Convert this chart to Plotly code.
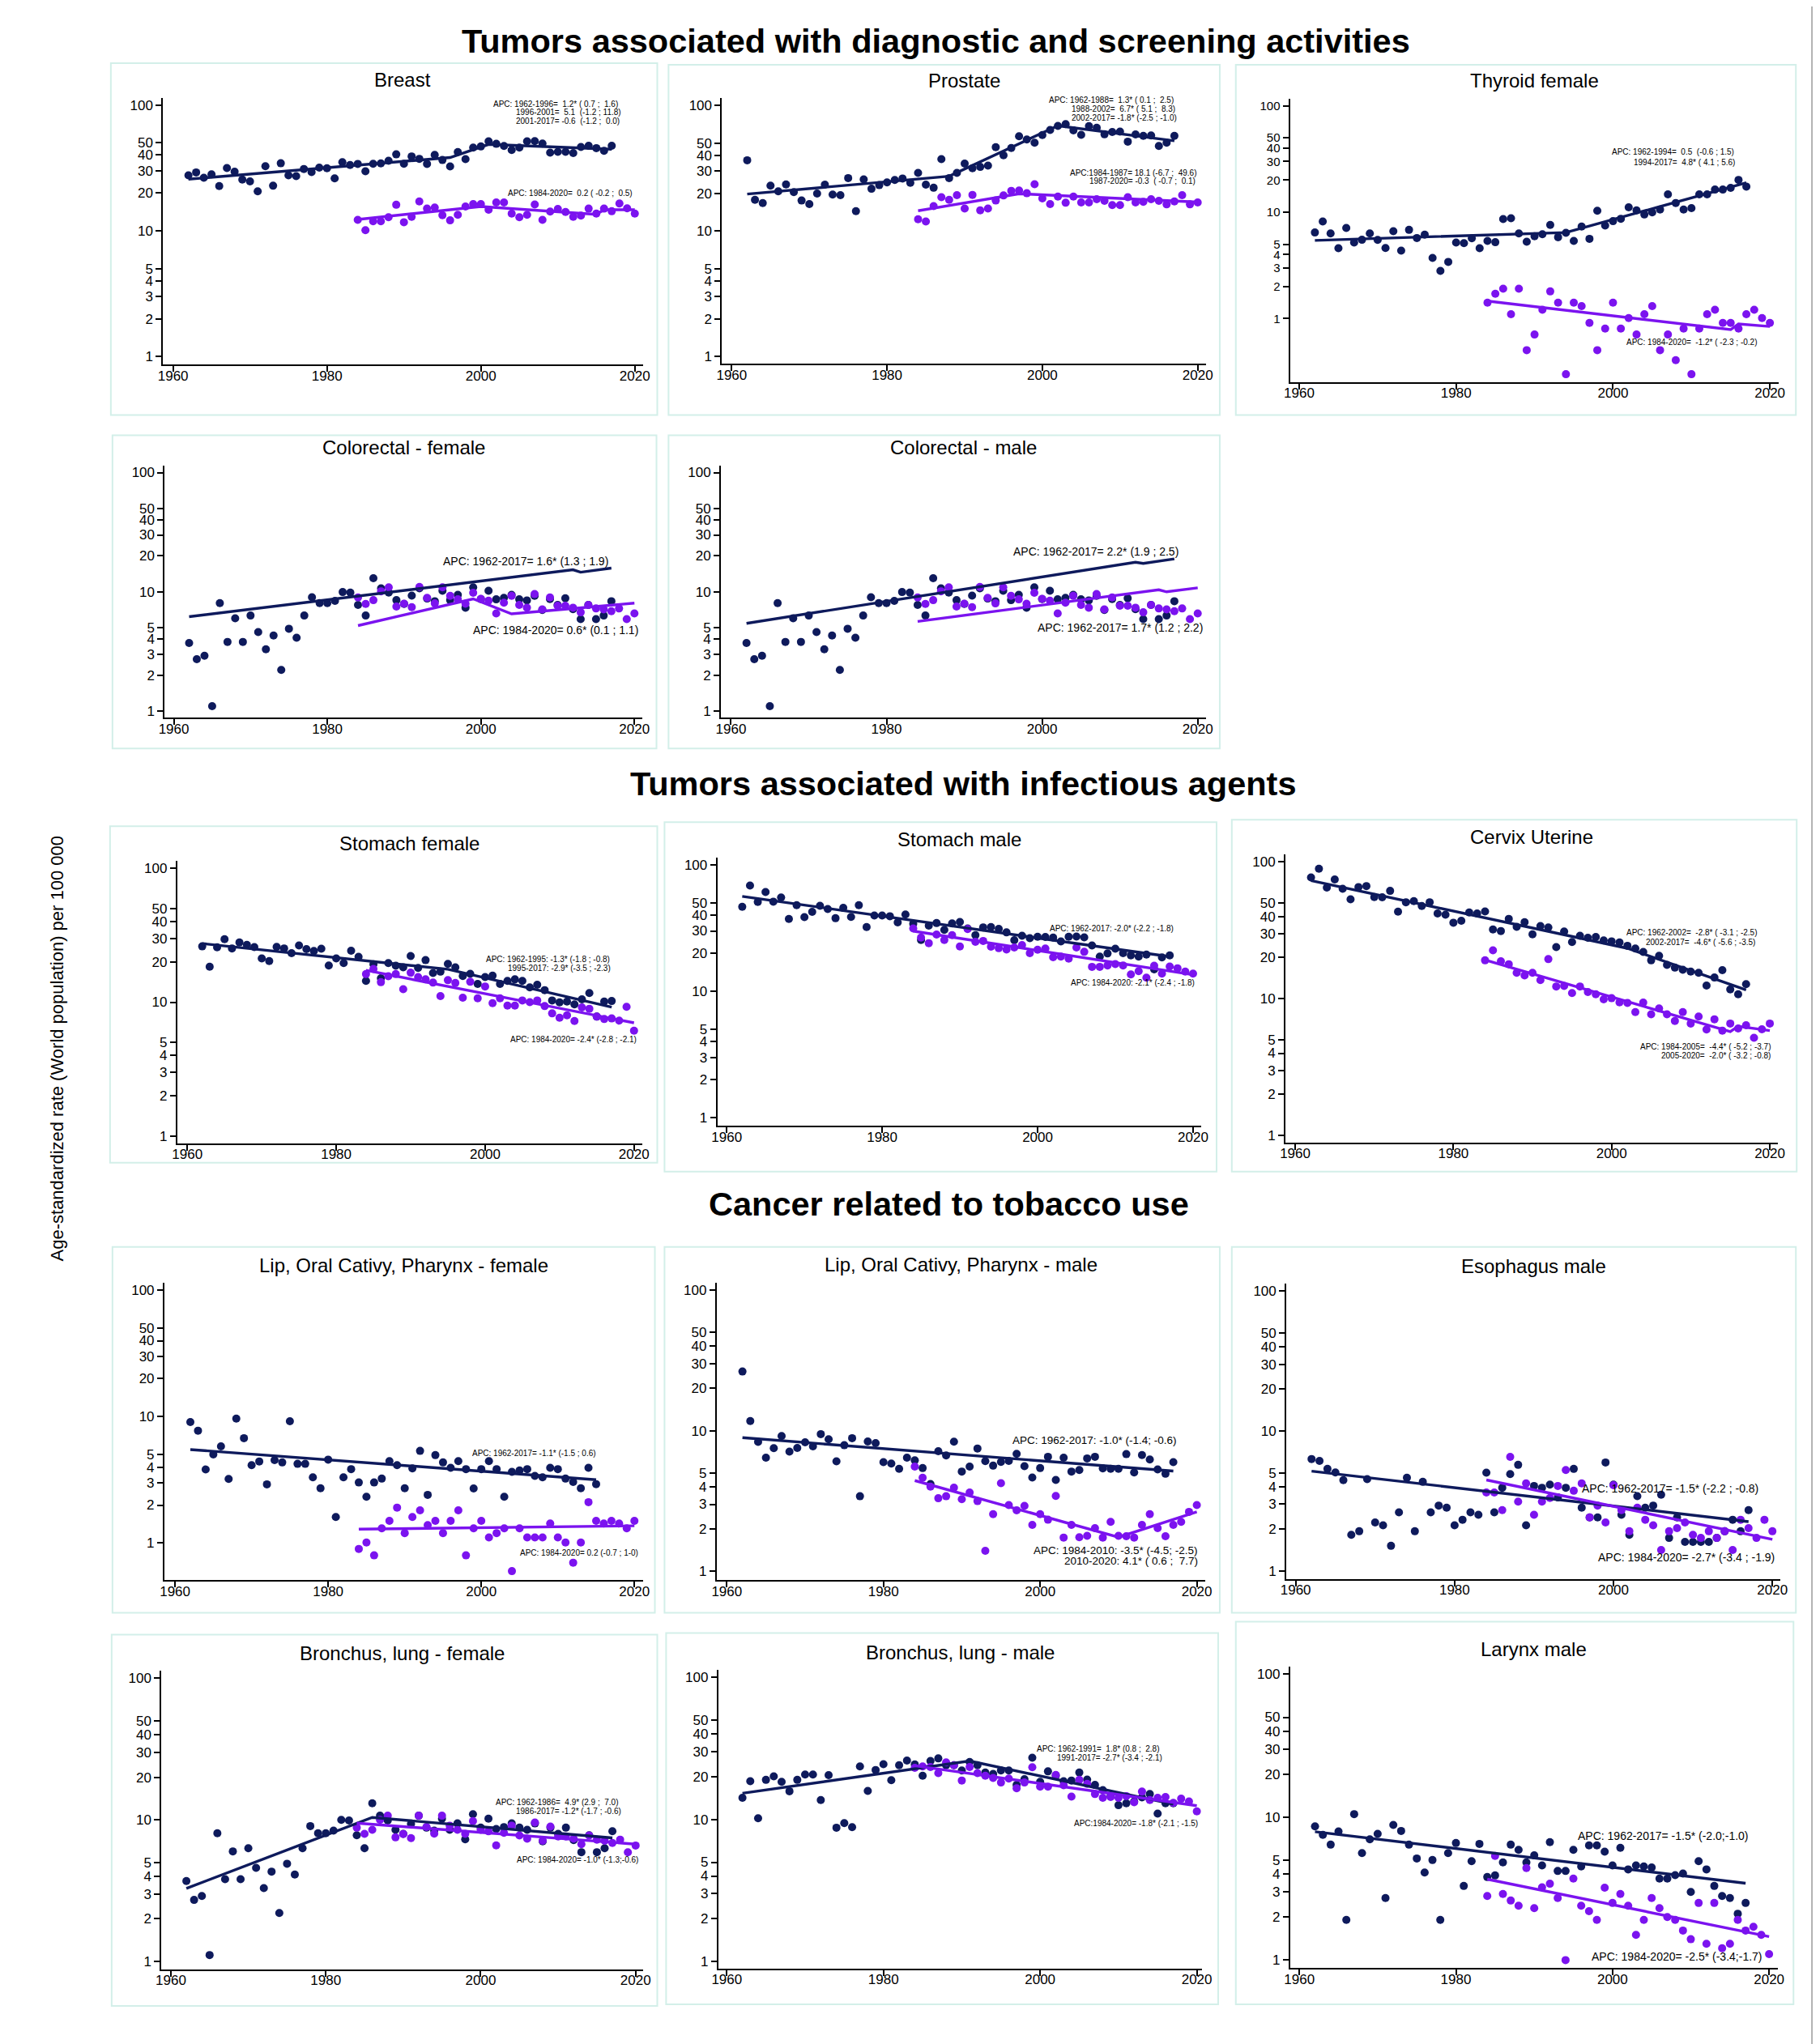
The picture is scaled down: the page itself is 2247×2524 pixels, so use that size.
import math
import plotly.graph_objects as go

W, H = 2247, 2524
NAVY = "#0e1a5c"
PURPLE = "#7b13ef"
BOXC = "#d3efe9"
FONT = "Liberation Sans, Arial, sans-serif"

# ---------------- data ----------------
years_a = list(range(1962, 2018))
years_b = list(range(1984, 2021))
years_lipf_a = list(range(1962, 2016))

breast_a = [27.6, 29.1, 26.4, 28.1, 22.7, 31.5, 29.5, 25.5, 24.7, 20.6,
            32.6, 22.8, 34.4, 27.6, 27.2, 31.0, 29.3, 31.8, 31.4, 26.1,
            35.1, 33.3, 34.0, 29.7, 34.1, 34.3, 36.0, 40.5, 34.1, 39.0,
            37.3, 34.0, 40.1, 36.5, 32.5, 42.2, 37.1, 45.8, 46.8, 51.4,
            49.1, 47.2, 43.8, 45.8, 51.4, 51.6, 49.3, 41.8, 42.4, 42.4,
            41.5, 46.3, 47.4, 45.4, 43.2, 47.4]
breast_b = [12.2, 10.1, 11.9, 11.9, 12.8, 16.1, 11.7, 12.9, 17.1, 15.0,
            15.3, 13.3, 12.1, 13.4, 15.6, 16.3, 16.3, 14.7, 16.8, 16.8,
            13.7, 12.8, 13.4, 16.2, 12.2, 14.2, 14.9, 14.1, 12.9, 13.2,
            15.0, 13.7, 15.0, 14.3, 16.5, 15.1, 13.7]
breast_fit_a_x = [1962, 1996, 2001, 2017]
breast_fit_a_y = [25.7, 38.2, 48.6, 44.5]
breast_fit_b_x = [1984, 2000, 2015, 2016, 2020]
breast_fit_b_y = [12.3, 15.6, 13.5, 14.7, 14.7]

prostate_a = [36.6, 17.7, 16.7, 23.0, 20.7, 23.5, 20.4, 17.5, 16.4, 19.9,
              23.4, 19.5, 19.3, 26.4, 14.4, 25.8, 21.7, 23.2, 24.4, 25.5,
              26.2, 24.2, 29.0, 23.4, 22.1, 37.4, 26.4, 29.0, 34.4, 31.6,
              32.4, 33.2, 46.5, 40.1, 45.8, 56.9, 53.6, 50.5, 58.1, 63.7,
              68.7, 71.1, 63.4, 58.3, 68.4, 66.4, 58.9, 61.5, 61.9, 51.5,
              58.7, 57.2, 57.7, 47.6, 50.5, 57.2]
prostate_b = [12.4, 11.9, 15.8, 18.6, 17.7, 19.3, 15.1, 19.4, 14.6, 15.1,
              17.5, 19.2, 20.9, 21.0, 20.0, 23.6, 18.2, 16.4, 18.8, 16.8,
              18.8, 16.9, 16.9, 17.9, 17.4, 16.1, 16.1, 18.6, 16.9, 17.1,
              17.9, 17.4, 16.3, 17.2, 19.3, 16.3, 16.9]
prostate_fit_a_x = [1962, 1988, 2002, 2017]
prostate_fit_a_y = [19.7, 27.3, 69.0, 52.3]
prostate_fit_b_x = [1984, 1997, 2020]
prostate_fit_b_y = [14.5, 19.8, 17.0]

thyroid_a = [6.44, 8.18, 6.32, 4.59, 7.11, 5.18, 5.50, 6.32, 5.48, 4.61,
             6.62, 4.35, 6.82, 5.72, 6.14, 3.72, 2.81, 3.41, 5.18, 5.12,
             5.69, 4.59, 5.37, 5.22, 8.62, 8.77, 6.32, 5.28, 5.93, 6.21,
             7.58, 5.82, 6.40, 5.37, 7.32, 5.62, 10.3, 7.49, 8.23, 8.67,
             11.1, 10.4, 9.51, 9.97, 10.6, 14.7, 12.2, 10.6, 10.9, 14.7,
             14.7, 16.3, 16.3, 16.9, 20.1, 17.4]
thyroid_b = [1.41, 1.71, 1.91, 1.10, 1.91, 0.505, 0.708, 1.21, 1.80, 1.41,
             0.30, 1.41, 1.31, 0.91, 0.505, 0.805, 1.41, 0.805, 1.01, 0.708,
             1.10, 1.31, 0.505, 0.708, 0.407, 0.805, 0.30, 0.805, 1.10, 1.21,
             0.91, 0.91, 0.805, 1.10, 1.21, 1.01, 0.91]
thyroid_fit_a_x = [1962, 1994, 2017]
thyroid_fit_a_y = [5.43, 6.44, 18.9]
thyroid_fit_b_x = [1984, 2015, 2016, 2020]
thyroid_fit_b_y = [1.46, 0.787, 0.89, 0.844]

colorectal_a = [3.72, 2.72, 2.91, 1.10, 8.04, 3.80, 6.00, 3.80, 6.32, 4.60,
                3.30, 4.30, 2.21, 4.90, 4.12, 6.32, 9.01, 8.04, 8.04, 8.38,
                9.95, 9.85, 7.75, 6.32, 13.0, 10.7, 9.85, 8.51, 7.91, 9.30,
                10.7, 8.78, 8.34, 10.2, 8.51, 9.44, 7.36, 10.9, 8.68, 10.2,
                8.64, 8.91, 9.42, 8.64, 8.47, 9.25, 7.05, 8.68, 7.75, 8.83,
                7.16, 5.90, 7.75, 5.90, 6.32, 8.34]
colorectal_b = [8.96, 7.91, 8.51, 10.1, 10.9, 7.52, 7.95, 7.44, 11.0, 8.91,
                7.99, 10.9, 9.25, 8.64, 7.95, 9.80, 8.72, 8.43, 6.59, 8.11,
                9.25, 7.75, 7.36, 9.57, 7.12, 8.96, 7.63, 7.63, 7.36, 6.73,
                7.75, 7.25, 7.12, 6.87, 7.25, 5.90, 6.59]
colf_fit_a_x = [1962, 2012, 2013, 2017]
colf_fit_a_y = [6.19, 15.3, 14.6, 15.8]
colf_fit_b_x = [1984, 1999, 2004, 2020]
colf_fit_b_y = [5.21, 8.72, 6.53, 8.04]
colm_fit_a_x = [1962, 2012, 2013, 2017]
colm_fit_a_y = [5.44, 17.7, 17.3, 18.9]
colm_fit_b_x = [1984, 2015, 2016, 2020]
colm_fit_b_y = [5.64, 10.4, 10.0, 10.8]

stomf_a = [26.1, 18.4, 25.7, 29.5, 25.2, 27.9, 26.8, 25.8, 21.2, 20.3,
           25.9, 25.2, 23.2, 26.5, 24.9, 24.1, 25.1, 18.8, 21.2, 19.6,
           24.2, 21.8, 14.4, 19.2, 15.1, 19.6, 18.7, 18.2, 22.1, 18.0,
           20.6, 16.5, 16.9, 19.3, 18.2, 15.7, 16.3, 13.7, 15.4, 15.8,
           13.7, 14.4, 14.8, 14.4, 12.9, 13.5, 12.3, 10.3, 9.98, 10.1,
           9.62, 10.5, 11.7, 7.80, 10.1, 10.2]
stomf_b = [16.2, 17.7, 14.1, 15.6, 16.2, 12.5, 16.6, 15.4, 14.8, 14.0,
           11.1, 14.6, 13.9, 10.8, 14.2, 10.7, 13.1, 9.84, 10.7, 9.44,
           9.44, 10.3, 10.0, 10.3, 9.35, 8.25, 7.66, 7.98, 7.24, 9.14,
           8.93, 7.80, 7.48, 7.56, 7.28, 9.23, 6.13]
stomf_fit_a_x = [1962, 1995, 2017]
stomf_fit_a_y = [27.4, 17.6, 9.18]
stomf_fit_b_x = [1984, 2020]
stomf_fit_b_y = [17.3, 7.01]

stomm_a = [46.5, 68.5, 50.8, 60.9, 51.1, 55.2, 37.3, 47.9, 38.6, 42.4,
           47.4, 44.7, 37.8, 45.6, 38.7, 47.9, 32.2, 39.7, 39.7, 39.2,
           35.0, 40.5, 34.2, 25.4, 33.0, 34.6, 30.6, 34.4, 35.3, 31.4,
           27.8, 32.0, 32.2, 31.1, 29.2, 25.3, 27.5, 26.3, 27.0, 26.9,
           26.6, 24.8, 27.0, 27.1, 26.7, 23.0, 18.8, 19.9, 21.7, 20.0,
           19.2, 18.8, 19.5, 14.9, 18.5, 19.2]
stomm_b = [31.4, 26.6, 24.0, 28.1, 25.4, 27.8, 22.6, 31.0, 24.6, 25.0,
           22.5, 21.9, 21.4, 22.2, 23.2, 20.0, 21.3, 21.8, 18.6, 18.8,
           18.1, 22.2, 20.5, 15.6, 15.6, 16.0, 16.4, 16.0, 13.6, 14.4,
           12.8, 15.9, 13.8, 15.7, 15.2, 14.3, 13.8]
stomm_fit_a_x = [1962, 2017]
stomm_fit_a_y = [56.3, 18.8]
stomm_fit_b_x = [1984, 2020]
stomm_fit_b_y = [29.9, 13.5]

cervix_a = [77.2, 89.3, 65.0, 74.5, 63.8, 53.4, 65.6, 66.7, 55.4, 55.2,
            61.5, 43.4, 50.8, 51.7, 47.7, 50.8, 42.0, 41.2, 36.0, 37.2,
            42.8, 42.0, 43.5, 32.1, 31.3, 38.4, 33.6, 36.3, 29.6, 34.0,
            33.2, 23.9, 31.0, 26.0, 28.9, 27.9, 28.3, 26.7, 26.3, 25.8,
            24.4, 23.3, 22.0, 19.1, 20.6, 17.7, 16.9, 16.3, 15.8, 15.5,
            12.5, 14.3, 16.2, 11.7, 10.8, 12.8]
cervix_b = [19.1, 22.6, 18.8, 17.9, 15.5, 14.8, 15.5, 13.7, 19.5, 12.3,
            12.4, 11.0, 12.3, 11.2, 10.8, 9.9, 10.1, 9.42, 9.33, 8.00,
            9.38, 7.69, 8.50, 7.69, 6.89, 8.00, 6.59, 7.41, 5.96, 7.08,
            5.85, 6.59, 6.07, 6.41, 5.18, 5.98, 6.59]
cervix_fit_a_x = [1962, 2002, 2017]
cervix_fit_a_y = [73.1, 23.4, 11.6]
cervix_fit_b_x = [1984, 2015, 2016, 2020]
cervix_fit_b_y = [19.2, 5.75, 6.3, 5.85]

lipf_a = [9.08, 7.76, 3.83, 5.04, 5.83, 3.22, 9.68, 6.77, 4.14, 4.43,
          2.92, 4.54, 4.35, 9.22, 4.24, 4.24, 3.32, 2.72, 4.58, 1.61,
          3.32, 3.85, 3.02, 2.33, 3.02, 3.24, 4.45, 4.14, 2.72, 3.90,
          5.37, 2.41, 4.97, 4.35, 3.94, 4.45, 3.85, 2.71, 3.85, 4.45,
          3.85, 2.33, 3.66, 3.76, 3.85, 3.40, 3.32, 3.94, 3.85, 3.24,
          3.05, 2.72, 3.94, 2.93]
lipf_b = [0.90, 1.01, 0.80, 1.31, 1.50, 1.91, 1.20, 1.61, 1.82, 1.39,
          1.50, 1.20, 1.50, 1.82, 0.80, 1.31, 1.50, 1.11, 1.20, 1.31,
          0.60, 1.31, 1.11, 1.11, 1.11, 1.43, 1.11, 1.01, 0.70, 1.01,
          2.11, 1.50, 1.43, 1.50, 1.43, 1.31, 1.50]
lipf_fit_a_x = [1962, 2015]
lipf_fit_a_y = [5.50, 3.17]
lipf_fit_b_x = [1984, 2020]
lipf_fit_b_y = [1.29, 1.37]

lipm_a = [26.3, 11.7, 8.31, 6.43, 7.51, 9.16, 7.09, 7.54, 8.27, 7.74,
          9.45, 8.68, 6.05, 7.88, 8.84, 3.42, 8.38, 8.16, 5.97, 5.84,
          5.35, 6.43, 6.15, 5.42, 4.18, 7.15, 6.67, 8.34, 5.12, 5.56,
          7.47, 6.08, 5.64, 5.99, 6.10, 6.84, 5.59, 4.65, 5.42, 6.52,
          4.46, 6.43, 5.12, 5.25, 6.35, 6.52, 5.40, 5.35, 5.35, 6.81,
          5.05, 6.71, 6.24, 5.30, 4.94, 5.97]
lipm_b = [5.56, 4.63, 4.00, 3.31, 3.42, 3.94, 3.26, 3.63, 3.16, 1.40,
          2.55, 4.23, 2.96, 2.72, 2.92, 2.14, 2.55, 2.33, 3.44, 1.74,
          2.14, 1.75, 1.79, 2.03, 1.74, 2.25, 1.79, 1.78, 1.74, 2.14,
          2.55, 2.03, 1.78, 2.14, 2.25, 2.65, 2.96]
lipm_fit_a_x = [1962, 2017]
lipm_fit_a_y = [8.92, 5.16]
lipm_fit_b_x = [1984, 2010, 2020]
lipm_fit_b_y = [4.42, 1.75, 2.65]

eso_a = [6.31, 6.12, 5.36, 5.06, 4.45, 1.81, 1.92, 4.53, 2.22, 2.12,
         1.51, 2.62, 4.63, 1.92, 4.33, 2.62, 2.93, 2.83, 2.12, 2.32,
         2.62, 2.52, 5.04, 2.62, 3.93, 4.92, 5.73, 2.12, 4.05, 3.93,
         4.14, 3.35, 3.93, 5.36, 2.83, 2.41, 2.41, 5.96, 4.14, 2.52,
         1.81, 3.42, 2.83, 2.93, 3.50, 1.72, 2.41, 1.61, 1.61, 1.61,
         1.61, 1.72, 1.92, 2.32, 1.92, 2.72]
eso_b = [3.63, 3.63, 2.72, 6.54, 3.13, 4.22, 2.52, 3.13, 3.32, 4.05,
         5.26, 3.74, 4.22, 2.41, 2.93, 2.22, 4.10, 2.72, 1.92, 2.83,
         2.32, 2.12, 1.41, 1.92, 2.02, 2.22, 1.81, 1.72, 1.92, 1.72,
         1.92, 1.41, 2.32, 2.02, 1.72, 2.32, 1.92]
eso_fit_a_x = [1962, 2017]
eso_fit_a_y = [5.17, 2.25]
eso_fit_b_x = [1984, 2020]
eso_fit_b_y = [4.47, 1.68]

lungf_a = [3.70, 2.72, 2.90, 1.11, 8.04, 3.81, 5.99, 3.81, 6.31, 4.58,
           3.30, 4.31, 2.20, 4.90, 4.11, 6.31, 9.04, 8.04, 8.04, 8.39,
           10.0, 9.90, 7.78, 6.31, 13.1, 10.7, 9.90, 8.51, 7.96, 9.36,
           10.7, 8.81, 8.39, 10.2, 8.51, 9.44, 7.29, 10.96, 8.81, 10.2,
           8.62, 8.89, 9.44, 8.81, 8.51, 9.44, 7.05, 8.81, 7.96, 8.81,
           7.20, 5.91, 7.78, 5.91, 6.31, 8.32]
lungf_b = [8.81, 7.96, 8.51, 10.0, 10.7, 7.52, 7.95, 7.44, 10.7, 8.91,
           7.99, 10.7, 9.10, 8.51, 7.96, 9.80, 8.51, 8.30, 6.60, 8.10,
           9.10, 7.75, 7.36, 9.57, 7.12, 8.96, 7.63, 7.63, 7.36, 6.73,
           7.75, 7.25, 7.12, 6.87, 7.25, 5.90, 6.59]
lungf_fit_a_x = [1962, 1986, 2017]
lungf_fit_a_y = [3.28, 10.4, 7.46]
lungf_fit_b_x = [1984, 2020]
lungf_fit_b_y = [9.49, 6.74]

lungm_a = [14.2, 18.6, 10.2, 19.0, 20.1, 18.4, 15.8, 19.0, 20.7, 20.7,
           13.7, 20.5, 8.75, 9.42, 8.83, 23.6, 15.9, 22.3, 24.5, 18.9,
           24.1, 26.0, 24.4, 20.3, 25.8, 26.9, 24.1, 24.1, 22.1, 25.4,
           24.1, 21.4, 20.9, 22.1, 22.1, 17.5, 19.2, 27.2, 18.4, 21.8,
           20.3, 18.6, 18.8, 21.4, 19.1, 17.5, 16.1, 14.6, 12.6, 13.0,
           13.4, 14.3, 15.1, 11.0, 13.0, 13.0]
lungm_b = [23.1, 23.6, 23.4, 21.2, 25.2, 24.1, 18.8, 23.4, 21.2, 20.3,
           19.6, 18.2, 19.4, 16.6, 18.2, 23.3, 17.0, 17.0, 20.6, 17.4,
           14.5, 19.0, 17.8, 15.1, 14.2, 14.4, 14.2, 14.6, 13.2, 15.7,
           13.7, 14.2, 14.4, 13.1, 14.0, 13.4, 11.4]
lungm_fit_a_x = [1962, 1991, 2017]
lungm_fit_a_y = [15.3, 25.8, 12.8]
lungm_fit_b_x = [1984, 2020]
lungm_fit_b_y = [23.9, 12.5]

larynx_a = [8.63, 7.51, 6.42, 7.94, 1.91, 10.5, 5.61, 7.00, 7.64, 2.72,
            8.82, 8.01, 6.42, 5.14, 4.10, 5.01, 1.91, 5.61, 6.59, 3.30,
            4.92, 6.50, 3.81, 3.91, 4.82, 6.42, 5.91, 4.82, 5.40, 4.59,
            6.68, 4.20, 4.20, 5.91, 4.52, 6.34, 6.34, 5.73, 4.59, 6.10,
            4.31, 4.59, 4.52, 4.44, 3.72, 3.72, 3.93, 4.03, 3.00, 4.92,
            4.31, 3.30, 2.81, 2.72, 2.11, 2.51]
larynx_b = [2.81, 5.35, 2.90, 2.61, 2.40, 4.40, 2.31, 3.23, 3.42, 2.72,
            1.00, 3.72, 2.40, 2.20, 1.91, 3.21, 2.51, 2.90, 2.40, 1.50,
            1.91, 2.72, 2.31, 2.00, 1.91, 1.61, 1.40, 2.51, 1.30, 2.51,
            1.21, 1.30, 1.91, 1.61, 1.71, 1.50, 1.10]
larynx_fit_a_x = [1962, 2017]
larynx_fit_a_y = [7.91, 3.45]
larynx_fit_b_x = [1984, 2020]
larynx_fit_b_y = [3.68, 1.46]

panel_titles = ["Breast", "Prostate", "Thyroid female",
                "Colorectal - female", "Colorectal - male",
                "Stomach female", "Stomach male", "Cervix Uterine",
                "Lip, Oral Cativy, Pharynx - female", "Lip, Oral Cativy, Pharynx - male", "Esophagus male",
                "Bronchus, lung - female", "Bronchus, lung - male", "Larynx male"]

section_titles = ["Tumors associated with diagnostic and screening activities",
                  "Tumors associated with infectious agents",
                  "Cancer related to tobacco use"]
y_title = "Age-standardized rate (World population) per 100 000"

ytick_vals = [1, 2, 3, 4, 5, 10, 20, 30, 40, 50, 100]
xtick_vals = [1960, 1980, 2000, 2020]

# APC annotations: (x right, y value, text, fontsize)
S, L = 10, 14
apc_breast = [(2018.0, 10 ** 2.008, "APC: 1962-1996=  1.2* ( 0.7 ;  1.6)", S),
              (2018.4, 10 ** 1.940, "1996-2001=  5.1  (-1.2 ; 11.8)", S),
              (2018.2, 10 ** 1.872, "2001-2017= -0.6  (-1.2 ;  0.0)", S),
              (2019.9, 10 ** 1.299, "APC: 1984-2020=  0.2 ( -0.2 ;  0.5)", S)]
apc_prostate = [(2017.1, 10 ** 2.044, "APC: 1962-1988=  1.3* ( 0.1 ;  2.5)", S),
                (2017.3, 10 ** 1.974, "1988-2002=  6.7* ( 5.1 ;  8.3)", S),
                (2017.5, 10 ** 1.904, "2002-2017= -1.8* (-2.5 ; -1.0)", S),
                (2020.1, 10 ** 1.465, "APC:1984-1987= 18.1 (-6.7 ;  49.6)", S),
                (2019.9, 10 ** 1.397, "1987-2020= -0.3  ( -0.7 ;  0.1)", S)]
apc_thyroid = [(2015.6, 10 ** 1.569, "APC: 1962-1994=  0.5  (-0.6 ; 1.5)", S),
               (2015.8, 10 ** 1.468, "1994-2017=  4.8* ( 4.1 ; 5.6)", S),
               (2018.5, 10 ** -0.218, "APC: 1984-2020=  -1.2* ( -2.3 ; -0.2)", S)]
apc_colf = [(2016.8, 10 ** 1.256, "APC: 1962-2017= 1.6* (1.3 ; 1.9)", L),
            (2020.7, 10 ** 0.679, "APC: 1984-2020= 0.6* (0.1 ; 1.1)", L)]
apc_colm = [(2017.7, 10 ** 1.335, "APC: 1962-2017= 2.2* (1.9 ; 2.5)", L),
            (2020.9, 10 ** 0.701, "APC: 1962-2017= 1.7* (1.2 ; 2.2)", L)]
apc_stomf = [(2017.0, 10 ** 1.323, "APC: 1962-1995: -1.3* (-1.8 ; -0.8)", S),
             (2017.1, 10 ** 1.257, "1995-2017: -2.9* (-3.5 ; -2.3)", S),
             (2020.6, 10 ** 0.721, "APC: 1984-2020= -2.4* (-2.8 ; -2.1)", S)]
apc_stomm = [(2017.7, 10 ** 1.495, "APC: 1962-2017: -2.0* (-2.2 ; -1.8)", S),
             (2020.4, 10 ** 1.066, "APC: 1984-2020: -2.1* (-2.4 ; -1.8)", S)]
apc_cervix = [(2018.6, 10 ** 1.485, "APC: 1962-2002=  -2.8* ( -3.1 ; -2.5)", S),
              (2018.4, 10 ** 1.414, "2002-2017=  -4.6* ( -5.6 ; -3.5)", S),
              (2020.3, 10 ** 0.647, "APC: 1984-2005=  -4.4* ( -5.2 ; -3.7)", S),
              (2020.3, 10 ** 0.586, "2005-2020=  -2.0* ( -3.2 ; -0.8)", S)]
apc_lipf = [(2015.2, 10 ** 0.709, "APC: 1962-2017= -1.1* (-1.5 ; 0.6)", S),
            (2020.7, 10 ** -0.077, "APC: 1984-2020= 0.2 (-0.7 ; 1-0)", S)]
apc_lipm = [(2017.7, 10 ** 0.933, "APC: 1962-2017: -1.0* (-1.4; -0.6)", 13.5),
            (2020.3, 10 ** 0.151, "APC: 1984-2010: -3.5* (-4.5; -2.5)", 13.5),
            (2020.3, 10 ** 0.075, "2010-2020: 4.1* ( 0.6 ;  7.7)", 13.5)]
apc_eso = [(2018.5, 10 ** 0.588, "APC: 1962-2017= -1.5* (-2.2 ; -0.8)", L),
           (2020.5, 10 ** 0.096, "APC: 1984-2020= -2.7* (-3.4 ; -1.9)", L)]
apc_lungf = [(2017.9, 10 ** 1.126, "APC: 1962-1986=  4.9* (2.9 ;  7.0)", S),
             (2018.4, 10 ** 1.061, "1986-2017= -1.2* (-1.7 ; -0.6)", S),
             (2020.6, 10 ** 0.72, "APC: 1984-2020= -1.0* (-1.3;-0.6)", S)]
apc_lungm = [(2015.4, 10 ** 1.496, "APC: 1962-1991=  1.8* (0.8 ;  2.8)", S),
             (2015.8, 10 ** 1.433, "1991-2017= -2.7* (-3.4 ; -2.1)", S),
             (2020.4, 10 ** 0.971, "APC:1984-2020= -1.8* (-2.1 ; -1.5)", S)]
apc_larynx = [(2017.6, 10 ** 0.870, "APC: 1962-2017= -1.5* (-2.0;-1.0)", L),
              (2019.4, 10 ** 0.0245, "APC: 1984-2020= -2.5* (-3.4;-1.7)", L)]

# ---------------- layout geometry (pixels) ----------------
# (y-axis x, x of 1960, x of 2020, axis right end, y of 100, y of 1, x-axis y)
geom = [
    (187, 199.5, 775, 785, 121.7, 432.7, 442.7),
    (883.7, 895.7, 1476.5, 1487, 122.3, 432.7, 441.7),
    (1591.4, 1603, 2189.6, 2200.8, 122.7, 385.7, 464),
    (189.2, 200.4, 774.5, 784, 576, 870.7, 879),
    (882.3, 894.8, 1476.5, 1487, 576, 870.7, 879),
    (204.8, 217.3, 774, 784.3, 1065, 1396, 1405),
    (877.9, 889.5, 1470.7, 1480.5, 1060.7, 1373.3, 1383.3),
    (1585.9, 1598, 2189.5, 2200, 1057.3, 1395.3, 1404),
    (188.75, 202, 774.5, 785, 1586.7, 1899, 1945),
    (877, 889.6, 1475.4, 1486, 1586, 1934, 1945),
    (1587, 1598.6, 2192.7, 2203, 1587.7, 1933.3, 1943.3),
    (185, 196.8, 776, 785, 2066, 2416, 2426),
    (879, 889.6, 1475.4, 1481.6, 2065, 2416, 2425),
    (1591.7, 1603.2, 2188.6, 2199.6, 2061, 2414.3, 2424.3),
]
ytick_font = [17, 17, 15, 17, 17, 17, 17, 17, 17, 17, 17, 17, 17, 17]
boxes = [
    (122, 70, 803, 505), (817, 72, 1504, 505), (1524, 72, 2222, 505),
    (124, 530, 802, 917), (817, 530, 1504, 917),
    (121, 1013, 803, 1429), (812, 1008, 1500, 1440), (1519, 1005, 2223, 1440),
    (124, 1533, 800, 1985), (812, 1533, 1504, 1985), (1519, 1533, 2222, 1985),
    (123, 2012, 803, 2471), (814, 2010, 1502, 2469), (1524, 1996, 2219, 2469),
]

panels = [
    (years_a, breast_a, years_b, breast_b, breast_fit_a_x, breast_fit_a_y, breast_fit_b_x, breast_fit_b_y, apc_breast),
    (years_a, prostate_a, years_b, prostate_b, prostate_fit_a_x, prostate_fit_a_y, prostate_fit_b_x, prostate_fit_b_y, apc_prostate),
    (years_a, thyroid_a, years_b, thyroid_b, thyroid_fit_a_x, thyroid_fit_a_y, thyroid_fit_b_x, thyroid_fit_b_y, apc_thyroid),
    (years_a, colorectal_a, years_b, colorectal_b, colf_fit_a_x, colf_fit_a_y, colf_fit_b_x, colf_fit_b_y, apc_colf),
    (years_a, colorectal_a, years_b, colorectal_b, colm_fit_a_x, colm_fit_a_y, colm_fit_b_x, colm_fit_b_y, apc_colm),
    (years_a, stomf_a, years_b, stomf_b, stomf_fit_a_x, stomf_fit_a_y, stomf_fit_b_x, stomf_fit_b_y, apc_stomf),
    (years_a, stomm_a, years_b, stomm_b, stomm_fit_a_x, stomm_fit_a_y, stomm_fit_b_x, stomm_fit_b_y, apc_stomm),
    (years_a, cervix_a, years_b, cervix_b, cervix_fit_a_x, cervix_fit_a_y, cervix_fit_b_x, cervix_fit_b_y, apc_cervix),
    (years_lipf_a, lipf_a, years_b, lipf_b, lipf_fit_a_x, lipf_fit_a_y, lipf_fit_b_x, lipf_fit_b_y, apc_lipf),
    (years_a, lipm_a, years_b, lipm_b, lipm_fit_a_x, lipm_fit_a_y, lipm_fit_b_x, lipm_fit_b_y, apc_lipm),
    (years_a, eso_a, years_b, eso_b, eso_fit_a_x, eso_fit_a_y, eso_fit_b_x, eso_fit_b_y, apc_eso),
    (years_a, lungf_a, years_b, lungf_b, lungf_fit_a_x, lungf_fit_a_y, lungf_fit_b_x, lungf_fit_b_y, apc_lungf),
    (years_a, lungm_a, years_b, lungm_b, lungm_fit_a_x, lungm_fit_a_y, lungm_fit_b_x, lungm_fit_b_y, apc_lungm),
    (years_a, larynx_a, years_b, larynx_b, larynx_fit_a_x, larynx_fit_a_y, larynx_fit_b_x, larynx_fit_b_y, apc_larynx),
]


def fx(p):
    return p / W


def fy(p):
    return 1 - p / H


def nb(t):
    return t.replace(" ", "\u00a0")


fig = go.Figure()
annotations = []
shapes = []
layout = {}

for i, (pan, g, box, title, yfs) in enumerate(zip(panels, geom, boxes, panel_titles, ytick_font), start=1):
    xa, ya, xb, yb, fax, fay, fbx, fby, apc = pan
    assert len(xa) == len(ya) and len(xb) == len(yb), title
    yax_x, x60, x20, xr, y100, y1, ybot = g
    ppy = (x20 - x60) / 60.0
    xmin = 1960 - (x60 - yax_x) / ppy
    xmax = 2020 + (xr - x20) / ppy
    ppd = (y1 - y100) / 2.0
    ytop = y100 - 9
    hi = 2 + 9 / ppd
    lo = -(ybot - y1) / ppd
    xn = "x" if i == 1 else f"x{i}"
    yn = "y" if i == 1 else f"y{i}"
    xk = "xaxis" if i == 1 else f"xaxis{i}"
    yk = "yaxis" if i == 1 else f"yaxis{i}"
    common = dict(showline=True, linecolor="black", linewidth=2, ticks="outside",
                  ticklen=7, tickwidth=2, tickcolor="black", showgrid=False,
                  zeroline=False, fixedrange=True)
    layout[xk] = dict(domain=[fx(yax_x), fx(xr)], range=[xmin, xmax], anchor=yn,
                      tickvals=xtick_vals, ticktext=[str(v) for v in xtick_vals],
                      ticklabelstandoff=-10,
                      tickfont=dict(family=FONT, size=17, color="black"), **common)
    layout[yk] = dict(domain=[fy(ybot), fy(ytop)], type="log", range=[lo, hi], anchor=xn,
                      tickvals=ytick_vals, ticktext=[str(v) for v in ytick_vals],
                      tickfont=dict(family=FONT, size=yfs, color="black"), **common)

    fig.add_trace(go.Scatter(x=xa, y=ya, mode="markers", xaxis=xn, yaxis=yn,
                             marker=dict(color=NAVY, size=10, line=dict(width=0)),
                             showlegend=False, hoverinfo="skip", cliponaxis=False))
    fig.add_trace(go.Scatter(x=xb, y=yb, mode="markers", xaxis=xn, yaxis=yn,
                             marker=dict(color=PURPLE, size=10, line=dict(width=0)),
                             showlegend=False, hoverinfo="skip", cliponaxis=False))
    fig.add_trace(go.Scatter(x=fax, y=fay, mode="lines", xaxis=xn, yaxis=yn,
                             line=dict(color=NAVY, width=3.4),
                             showlegend=False, hoverinfo="skip"))
    fig.add_trace(go.Scatter(x=fbx, y=fby, mode="lines", xaxis=xn, yaxis=yn,
                             line=dict(color=PURPLE, width=3.4),
                             showlegend=False, hoverinfo="skip"))

    for (tx, tv, txt, fs) in apc:
        annotations.append(dict(x=tx, y=math.log10(tv), xref=xn, yref=yn, text=nb(txt),
                                showarrow=False, xanchor="right", yanchor="middle",
                                font=dict(family=FONT, size=fs, color="black")))

    annotations.append(dict(x=fx((yax_x + xr) / 2), y=fy(ytop - 22), xref="paper", yref="paper",
                            text=title, showarrow=False, xanchor="center", yanchor="middle",
                            font=dict(family=FONT, size=24, color="black")))

    bx0, by0, bx1, by1 = box
    shapes.append(dict(type="rect", xref="paper", yref="paper", x0=fx(bx0), x1=fx(bx1),
                       y0=fy(by1), y1=fy(by0), line=dict(color=BOXC, width=2), layer="below"))

# outer frame (right and bottom edges visible in the reference)
shapes.append(dict(type="line", xref="paper", yref="paper", x0=fx(2242), x1=fx(2242),
                   y0=fy(2519), y1=fy(0), line=dict(color="#9a9a9a", width=1.5)))
shapes.append(dict(type="line", xref="paper", yref="paper", x0=fx(0), x1=fx(2242),
                   y0=fy(2519), y1=fy(2519), line=dict(color="#9a9a9a", width=1.5)))

# section titles
for txt, cx, cy in zip(section_titles, [1150, 1184, 1166], [43, 960, 1480]):
    annotations.append(dict(x=fx(cx), y=fy(cy), xref="paper", yref="paper", text=f"<b>{txt}</b>",
                            showarrow=False, xanchor="center", yanchor="middle",
                            font=dict(family=FONT, size=41.5, color="black")))

annotations.append(dict(x=fx(56), y=fy(1288), xref="paper", yref="paper", text=y_title,
                        showarrow=False, textangle=-90, xanchor="center", yanchor="middle",
                        font=dict(family=FONT, size=22, color="black")))

fig.update_layout(width=W, height=H, margin=dict(l=0, r=0, t=0, b=0),
                  paper_bgcolor="white", plot_bgcolor="rgba(0,0,0,0)",
                  annotations=annotations, shapes=shapes, showlegend=False, **layout)

fig.write_html("out.html")
